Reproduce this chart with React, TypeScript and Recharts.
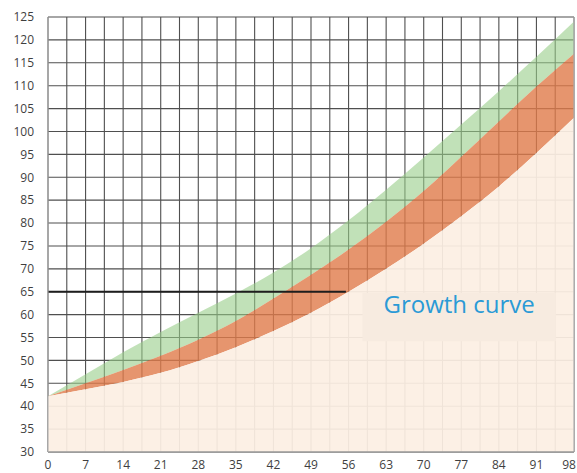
import React from 'react';
import {
  ComposedChart,
  Area,
  XAxis,
  YAxis,
  CartesianGrid,
  ReferenceLine,
  ReferenceArea,
} from 'recharts';

// Days (x categories)
const days = [0, 7, 14, 21, 28, 35, 42, 49, 56, 63, 70, 77, 84, 91, 98];
// Lower boundary of the orange band (top of the beige area)
const lowerCurve = [42.2, 43.7, 45.3, 47.3, 49.9, 52.9, 56.4, 60.4, 65.0, 70.0, 75.5, 81.5, 88.0, 95.3, 103.0];
// Top of the orange band / bottom of the green band
const midCurve = [42.2, 45.0, 47.9, 51.0, 54.5, 58.6, 63.5, 68.7, 74.2, 80.3, 87.0, 94.5, 102.2, 109.8, 117.0];
// Top of the green band
const upperCurve = [42.2, 47.0, 51.8, 56.2, 60.4, 64.6, 69.2, 74.5, 80.6, 87.3, 94.3, 101.5, 108.8, 116.3, 124.0];

// Tick labels
const xTicks = [0, 7, 14, 21, 28, 35, 42, 49, 56, 63, 70, 77, 84, 91, 98];
const yTicks = [30, 35, 40, 45, 50, 55, 60, 65, 70, 75, 80, 85, 90, 95, 100, 105, 110, 115, 120, 125];
const xGrid = [0, 3.5, 7, 10.5, 14, 17.5, 21, 24.5, 28, 31.5, 35, 38.5, 42, 45.5, 49, 52.5, 56, 59.5, 63, 66.5, 70, 73.5, 77, 80.5, 84, 87.5, 91, 94.5, 98];

const title = 'Growth curve';

const data = days.map((day, i) => ({
  day,
  lower: lowerCurve[i],
  orange: [lowerCurve[i], midCurve[i]],
  green: [midCurve[i], upperCurve[i]],
}));

const tickStyle = { fontFamily: 'Open Sans', fontSize: 12, fill: '#3f3f3f' };
const CHART_W = 577;

function XTick(props: any) {
  const { x, y, payload } = props;
  const label = String(payload.value);
  const approxW = label.length * 7;
  const half = approxW / 2;
  const cx = Math.min(x, CHART_W - half - 1);
  return (
    <text
      x={cx}
      y={y}
      dy="0.71em"
      textAnchor="middle"
      fontFamily="Open Sans"
      fontSize={12}
      fill="#3f3f3f"
    >
      {label}
    </text>
  );
}

export default function App() {
  return (
    <div style={{ position: 'absolute', left: 0, top: 0, width: 577, height: 473, background: '#fff' }}>
      <ComposedChart
        width={CHART_W}
        height={473}
        data={data}
        margin={{ top: 17, right: 3, bottom: 0, left: 8 }}
      >
        <CartesianGrid
          stroke="#4f4f4f"
          strokeWidth={1.1}
          verticalValues={xGrid}
          horizontalValues={yTicks}
        />
        <XAxis
          dataKey="day"
          type="number"
          domain={[0, 98]}
          ticks={xTicks}
          interval={0}
          tickLine={false}
          tickSize={0}
          tickMargin={8}
          axisLine={{ stroke: '#9a9a9a', strokeWidth: 1.5 }}
          tick={<XTick />}
          height={21}
        />
        <YAxis
          type="number"
          domain={[30, 125]}
          ticks={yTicks}
          interval={0}
          tickLine={false}
          tickSize={0}
          tickMargin={14}
          axisLine={{ stroke: '#b0b0b0' }}
          tick={tickStyle}
          width={40}
        />
        <Area
          dataKey="green"
          type="monotone"
          stroke="none"
          fill="#98cd88"
          fillOpacity={0.6}
          isAnimationActive={false}
        />
        <Area
          dataKey="orange"
          type="monotone"
          stroke="none"
          fill="#e07a4a"
          fillOpacity={0.8}
          isAnimationActive={false}
        />
        <Area
          dataKey="lower"
          type="monotone"
          stroke="none"
          fill="#fcefe3"
          fillOpacity={0.93}
          isAnimationActive={false}
        />
        <ReferenceLine
          segment={[{ x: 0, y: 65 }, { x: 55.5, y: 65 }]}
          stroke="#1e1e1e"
          strokeWidth={1.8}
        />
        <ReferenceLine x={98} stroke="#b5b5b5" strokeWidth={1.2} />
        <ReferenceArea
          x1={58.6}
          x2={94.6}
          y1={54.2}
          y2={64.7}
          fill="#f7ebe0"
          fillOpacity={1}
          stroke="none"
          label={{
            value: title,
            position: 'insideTop',
            offset: 3,
            fill: '#2a9ad6',
            fontSize: 24,
            fontFamily: 'Open Sans',
          }}
        />
      </ComposedChart>
    </div>
  );
}
